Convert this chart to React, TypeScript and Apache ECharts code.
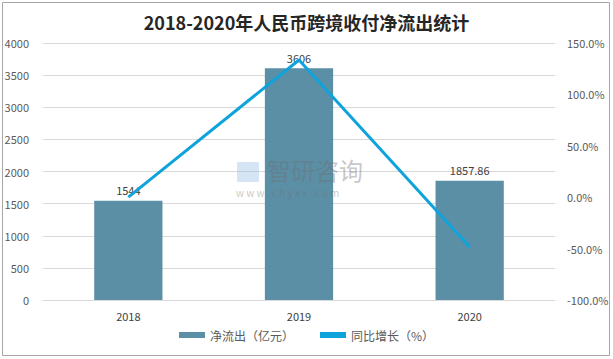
import React, { useEffect, useRef } from "react";
import * as echarts from "echarts";

const categories = ["2018", "2019", "2020"];
const netOutflow = [1544, 3606, 1857.86];
const growthPct = [0, 133.5, -48.5];
const leftTicks = { min: 0, max: 4000, interval: 500 };
const rightTicks = { min: -100, max: 150, interval: 50 };

const FONT = "'Noto Sans CJK SC', 'Noto Sans', sans-serif";

export default function App() {
  const ref = useRef<HTMLDivElement>(null);
  useEffect(() => {
    const chart = echarts.init(ref.current!, undefined, { renderer: "svg" });
    chart.setOption({
      animation: false,
      backgroundColor: "#ffffff",
      textStyle: { fontFamily: FONT },
      title: {
        text: "2018-2020年人民币跨境收付净流出统计",
        left: "center",
        top: 8,
        textStyle: { fontSize: 18, fontWeight: "bold", color: "#262626", fontFamily: FONT },
      },
      graphic: [
        {
          type: "rect",
          shape: { x: 2.5, y: 2.5, width: 607, height: 353 },
          style: { fill: "none", stroke: "#a6a6a6", lineWidth: 1 },
          silent: true,
        },
        {
          type: "text",
          left: 267,
          top: 155,
          z: 100,
          style: { text: "智研咨询", fontSize: 24, lineHeight: 28, fill: "rgba(110,110,110,0.4)", fontFamily: FONT },
        },
        {
          type: "text",
          left: 236,
          top: 187,
          z: 100,
          style: { text: "w w w . c h y x x . c o m", fontSize: 10, lineHeight: 11, fill: "rgba(110,110,110,0.4)", fontFamily: FONT },
        },
        {
          type: "rect",
          z: 100,
          shape: { x: 237, y: 162, width: 22, height: 20 },
          style: { fill: "rgba(150,190,225,0.4)" },
        },
      ],
      legend: {
        bottom: 13,
        left: "center",
        itemGap: 26,
        itemWidth: 26,
        itemHeight: 6,
        textStyle: { fontSize: 12, color: "#595959", fontFamily: FONT },
        data: [
          { name: "净流出（亿元）", icon: "rect" },
          { name: "同比增长（%）", icon: "rect", itemStyle: { color: "#0fa3dc" } },
        ],
      },
      grid: { left: 43, right: 58, top: 43, bottom: 59 },
      xAxis: {
        type: "category",
        data: categories,
        axisLine: { lineStyle: { color: "#d9d9d9" } },
        axisTick: { show: false },
        axisLabel: { color: "#404040", fontSize: 11, margin: 10 },
      },
      yAxis: [
        {
          type: "value",
          ...leftTicks,
          axisLine: { show: false },
          axisTick: { show: false },
          splitLine: { lineStyle: { color: "#d9d9d9" } },
          axisLabel: { color: "#595959", fontSize: 11, margin: 14, formatter: (v: number) => String(v) },
        },
        {
          type: "value",
          ...rightTicks,
          axisLine: { show: false },
          axisTick: { show: false },
          splitLine: { show: false },
          axisLabel: {
            color: "#595959",
            fontSize: 11,
            margin: 12,
            formatter: (v: number) => v.toFixed(1) + "%",
          },
        },
      ],
      series: [
        {
          name: "净流出（亿元）",
          type: "bar",
          data: netOutflow,
          barWidth: "40%",
          itemStyle: { color: "#5b8fa6" },
          label: { show: true, position: "top", color: "#404040", fontSize: 11, distance: 5 },
        },
        {
          name: "同比增长（%）",
          type: "line",
          yAxisIndex: 1,
          data: growthPct,
          symbol: "none",
          lineStyle: { color: "#0fa3dc", width: 3 },
          itemStyle: { color: "#0fa3dc" },
        },
      ],
    });
    return () => chart.dispose();
  }, []);
  return <div ref={ref} style={{ width: 613, height: 359, position: "absolute", left: 0, top: 0 }} />;
}
